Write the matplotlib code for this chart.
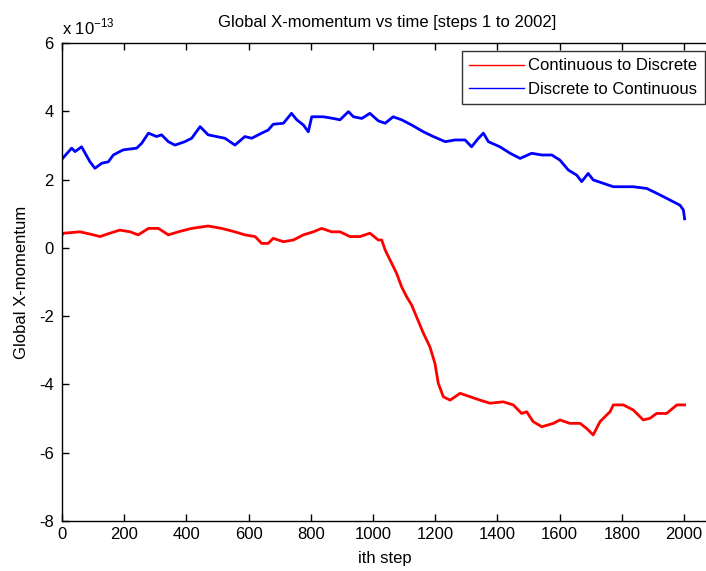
import matplotlib
matplotlib.use("Agg")
import matplotlib.pyplot as plt

plt.rcParams['font.family'] = ['Liberation Sans', 'DejaVu Sans']
plt.rcParams['axes.unicode_minus'] = False
plt.rcParams['mathtext.fontset'] = 'custom'
plt.rcParams['mathtext.rm'] = 'Liberation Sans'

# Global X-momentum (units of 1e-13) sampled along the step axis
steps_c2d = [0, 6, 58, 101, 122, 154, 186, 219, 245, 278, 310, 342, 374, 417, 470,
             513, 556, 588, 621, 642, 663, 679, 712, 744, 776, 808, 835, 867, 894,
             926, 958, 990, 1017, 1028, 1039, 1060, 1076, 1092, 1108, 1124, 1140,
             1162, 1183, 1199, 1210, 1226, 1248, 1280, 1312, 1344, 1376, 1419, 1451,
             1478, 1494, 1515, 1543, 1580, 1601, 1633, 1666, 1687, 1708, 1730, 1762,
             1773, 1805, 1837, 1869, 1891, 1912, 1944, 1977, 2002]
mom_c2d = [0.38, 0.43, 0.47, 0.38, 0.33, 0.43, 0.52, 0.47, 0.38, 0.57, 0.57, 0.38,
           0.47, 0.57, 0.64, 0.57, 0.47, 0.38, 0.33, 0.13, 0.13, 0.28, 0.18, 0.23,
           0.38, 0.47, 0.57, 0.47, 0.47, 0.33, 0.33, 0.43, 0.23, 0.23, -0.06, -0.45,
           -0.75, -1.14, -1.43, -1.67, -2.02, -2.50, -2.90, -3.38, -3.97, -4.36,
           -4.46, -4.26, -4.36, -4.46, -4.55, -4.51, -4.60, -4.85, -4.80, -5.09,
           -5.24, -5.14, -5.04, -5.14, -5.14, -5.29, -5.48, -5.09, -4.80, -4.60,
           -4.60, -4.75, -5.04, -4.99, -4.85, -4.85, -4.60, -4.60]

steps_d2c = [0, 31, 42, 63, 74, 90, 106, 128, 149, 165, 186, 197, 240, 256, 278,
             304, 320, 342, 363, 395, 417, 444, 470, 497, 524, 556, 588, 610, 642,
             663, 679, 712, 738, 755, 776, 792, 803, 840, 872, 894, 921, 937, 964,
             990, 1017, 1039, 1065, 1092, 1124, 1162, 1194, 1232, 1264, 1296, 1317,
             1339, 1355, 1371, 1408, 1441, 1473, 1510, 1543, 1575, 1601, 1628, 1655,
             1671, 1692, 1708, 1773, 1837, 1880, 1912, 1955, 1987, 1998, 2002]
mom_d2c = [2.60, 2.92, 2.82, 2.96, 2.78, 2.52, 2.33, 2.48, 2.52, 2.72, 2.82, 2.87,
           2.92, 3.06, 3.36, 3.26, 3.31, 3.11, 3.01, 3.11, 3.21, 3.55, 3.31, 3.26,
           3.21, 3.01, 3.26, 3.21, 3.36, 3.45, 3.62, 3.65, 3.94, 3.75, 3.60, 3.40,
           3.84, 3.84, 3.79, 3.75, 3.99, 3.84, 3.79, 3.94, 3.72, 3.65, 3.84, 3.75,
           3.60, 3.40, 3.26, 3.11, 3.16, 3.16, 2.96, 3.21, 3.36, 3.11, 2.96, 2.77,
           2.62, 2.77, 2.72, 2.72, 2.57, 2.28, 2.13, 1.94, 2.18, 1.99, 1.79, 1.79,
           1.74, 1.60, 1.40, 1.25, 1.11, 0.85]

x_ticks = list(range(0, 2001, 200))
y_ticks = [-8, -6, -4, -2, 0, 2, 4, 6]

W, H = 706, 571
FS = 12
fig = plt.figure(figsize=(W / 100, H / 100), dpi=100)
fig.patch.set_facecolor('white')

x_max = 2500
px_per_step = 0.311
ax_w = x_max * px_per_step / W
ax = fig.add_axes([62 / W, (H - 521) / H, ax_w, (521 - 43) / H])

ax.plot(steps_c2d, mom_c2d, color='#ff0000', lw=2.0, label='Continuous to Discrete')
ax.plot(steps_d2c, mom_d2c, color='#0000ff', lw=2.0, label='Discrete to Continuous')

ax.set_xlim(0, x_max)
ax.set_ylim(-8, 6)
ax.set_xticks(x_ticks)
ax.set_yticks(y_ticks)
ax.tick_params(direction='in', length=5, width=1, top=True, right=True,
               labelsize=FS, colors='black')
ax.tick_params(axis='x', pad=4)
ax.tick_params(axis='y', pad=6)
for sp in ax.spines.values():
    sp.set_linewidth(1.0)

fig.text(387 / W, 1 - 22 / H, 'Global X-momentum vs time [steps 1 to 2002]',
         fontsize=FS, ha='center', va='center')
fig.text(385 / W, 1 - 558 / H, 'ith step', fontsize=FS, ha='center', va='center')
fig.text(22 / W, 1 - 282 / H, 'Global X-momentum', fontsize=FS, rotation=90,
         ha='center', va='center')
fig.text(62 / W, 1 - 27 / H, r'x 10$^{\mathregular{-13}}$', fontsize=FS,
         ha='left', va='center')

leg = fig.legend(loc='upper right', bbox_to_anchor=(705 / W, 1 - 51 / H),
                 fontsize=FS, frameon=True, fancybox=False, borderpad=0.45,
                 handlelength=3.25, handletextpad=0.3, labelspacing=0.5,
                 borderaxespad=0)
leg.get_frame().set_edgecolor('black')
leg.get_frame().set_linewidth(1.0)
for line in leg.get_lines():
    line.set_linewidth(1.0)

fig.savefig('out.png', dpi=100)
